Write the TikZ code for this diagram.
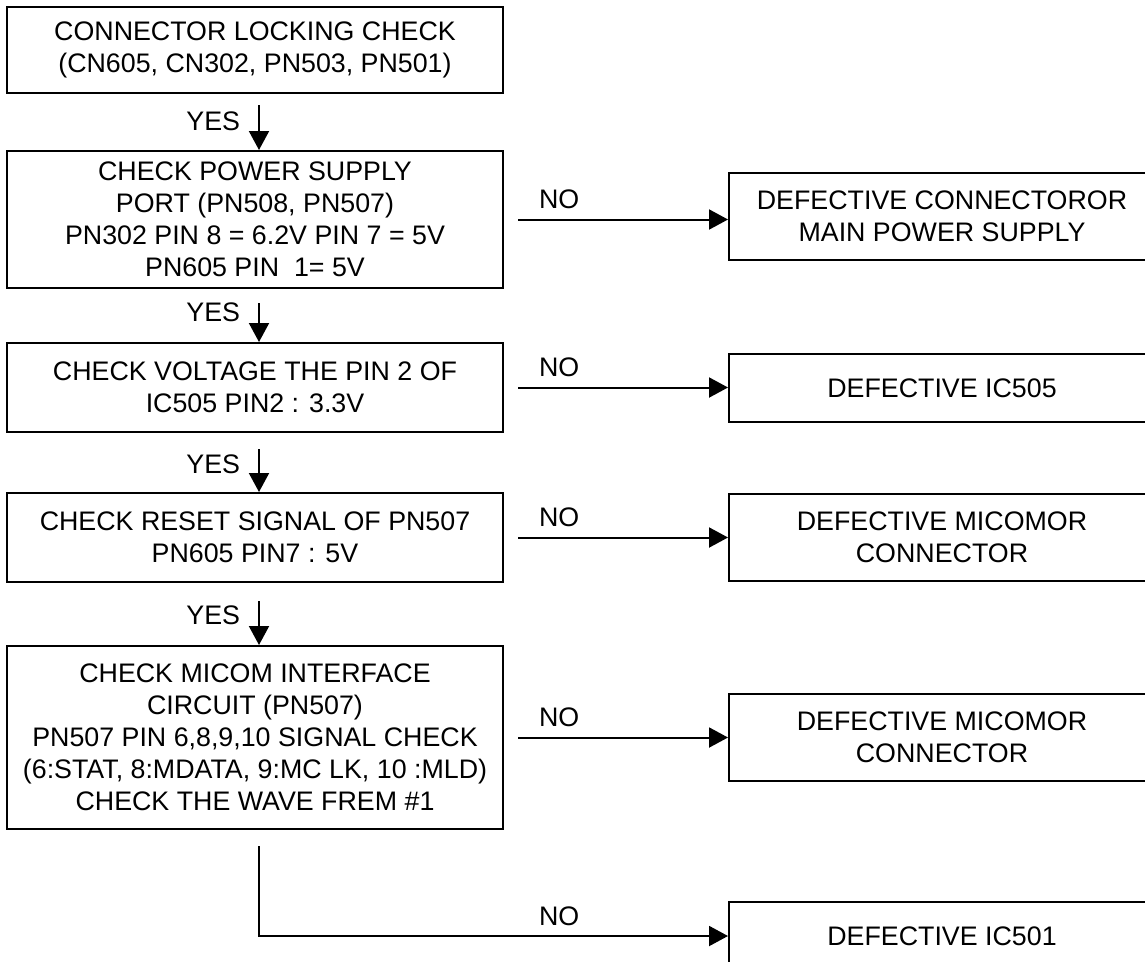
\documentclass[tikz,border=0pt]{standalone}
\usepackage{fontspec}
\setmainfont{Liberation Sans}
\usetikzlibrary{arrows.meta}
\begin{document}
\begin{tikzpicture}[x=1pt,y=-1pt,
  txt/.style={font=\fontsize{26.8}{32}\selectfont},
  lbox/.style={txt,draw,line width=2pt,inner sep=0pt,minimum width=496pt,align=center},
  rbox/.style={txt,draw,line width=2pt,inner sep=0pt,minimum width=426pt,align=center},
  flow/.style={line width=2pt,-{Triangle[length=19pt,width=20pt]}},
  lbl/.style={txt,inner sep=0pt},
  yes/.style={lbl,anchor=east,xshift=-18pt},
  no/.style={lbl,pos=1,anchor=base west,xshift=-190pt,yshift=11pt}]
\useasboundingbox (0,0) rectangle (1145,961);
\clip (0,0) rectangle (1145,961);
\fill[white] (0,0) rectangle (1145,961);
% left column
\node[lbox,minimum height=86pt] (b1) at (255,50) {CONNECTOR LOCKING CHECK\\(CN605, CN302, PN503, PN501)};
\node[lbox,minimum height=137pt] (b2) at (255,219.5) {CHECK POWER SUPPLY\\PORT (PN508, PN507)\\PN302 PIN 8 = 6.2V PIN 7 = 5V\\PN605 PIN\ \ 1= 5V};
\node[lbox,minimum height=89pt] (b3) at (255,387.5) {CHECK VOLTAGE THE PIN 2 OF\\IC505 PIN2 : 3.3V};
\node[lbox,minimum height=89pt] (b4) at (255,537.5) {CHECK RESET SIGNAL OF PN507\\PN605 PIN7 : 5V};
\node[lbox,minimum height=183pt] (b5) at (255,737.5) {CHECK MICOM INTERFACE\\CIRCUIT (PN507)\\PN507 PIN 6,8,9,10 SIGNAL CHECK\\(6:STAT, 8:MDATA, 9:MC LK, 10 :MLD)\\CHECK THE WAVE FREM \#1};
% right column
\node[rbox,minimum height=87pt] (r2) at (942,216.5) {DEFECTIVE CONNECTOROR\\MAIN POWER SUPPLY};
\node[rbox,minimum height=68pt] (r3) at (942,388) {DEFECTIVE IC505};
\node[rbox,minimum height=87pt] (r4) at (942,537.5) {DEFECTIVE MICOMOR\\CONNECTOR};
\node[rbox,minimum height=87pt] (r5b) at (942,737.5) {DEFECTIVE MICOMOR\\CONNECTOR};
\node[rbox,minimum height=68pt] (r6) at (942,936) {DEFECTIVE IC501};
% YES arrows
\draw[flow] ([shift={(4,11)}]b1.south) -- node[yes,pos=0.36]{YES} ([xshift=4]b2.north);
\draw[flow] ([shift={(4,14)}]b2.south) -- node[yes,pos=0.24]{YES} ([xshift=4]b3.north);
\draw[flow] ([shift={(4,16)}]b3.south) -- node[yes,pos=0.36]{YES} ([xshift=4]b4.north);
\draw[flow] ([shift={(4,18)}]b4.south) -- node[yes,pos=0.33]{YES} ([xshift=4]b5.north);
% NO arrows
\draw[flow] ([xshift=14]b2.east) -- (b2.east -| r2.west) node[no]{NO};
\draw[flow] ([xshift=14]b3.east) -- (b3.east -| r3.west) node[no]{NO};
\draw[flow] ([xshift=14]b4.east) -- (b4.east -| r4.west) node[no]{NO};
\draw[flow] ([xshift=14]b5.east) -- (b5.east -| r5b.west) node[no]{NO};
\coordinate (c5) at ([shift={(4,16)}]b5.south);
\draw[flow] (c5) |- (r6.west) node[no]{NO};
\end{tikzpicture}
\end{document}
